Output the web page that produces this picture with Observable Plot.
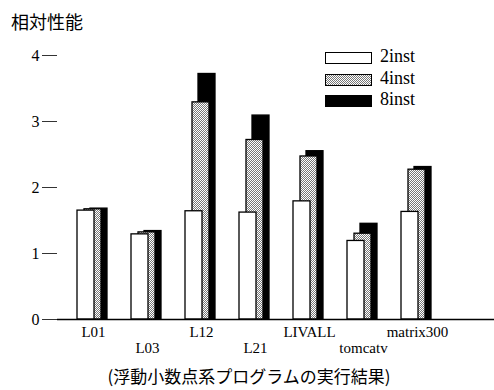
<!DOCTYPE html>
<html>
<head>
<meta charset="utf-8">
<script src="https://cdn.jsdelivr.net/npm/d3@7"></script>
<script src="https://cdn.jsdelivr.net/npm/@observablehq/plot@0.6"></script>
<style>
  body { margin: 0; background: #fff; width: 494px; height: 390px; position: relative; overflow: hidden; }
  #title { height: 40px; padding-left: 11px; font: 18px "Noto Sans CJK JP", sans-serif; box-sizing: border-box; padding-top: 3px; line-height: 36px; }
  #caption { position: absolute; left: 0; top: 362px; width: 494px; text-align: center; font: 17px "Noto Sans CJK JP", sans-serif; line-height: 28px; padding-left: 2px; }
  #legend { position: absolute; left: 325px; top: 51px; }
  .item { height: 21.7px; position: relative; }
  .sw { position: absolute; left: 0; top: 1px; width: 45px; height: 10px; border: 1.3px solid #000; }
  .lab { position: absolute; left: 55px; top: -5px; font: 18px "Liberation Serif", serif; line-height: 20px; }
  svg { display: block; }
</style>
</head>
<body>
<div id="title">相対性能</div>
<div id="chart"></div>
<div id="legend"></div>
<div id="caption">(浮動小数点系プログラムの実行結果)</div>
<script>
const categories = ["L01", "L03", "L12", "L21", "LIVALL", "tomcatv", "matrix300"];
const series = ["2inst", "4inst", "8inst"];
const v2inst = [1.65, 1.29, 1.64, 1.62, 1.79, 1.19, 1.63];
const v4inst = [1.67, 1.32, 3.29, 2.72, 2.47, 1.30, 2.27];
const v8inst = [1.68, 1.34, 3.72, 3.09, 2.55, 1.45, 2.31];
const yTicks = [0, 1, 2, 3, 4];

const fills = {"2inst": "#fff", "4inst": "url(#stip)", "8inst": "#000"};
const offsets = {"2inst": 0, "4inst": 7, "8inst": 13};
const values = {"2inst": v2inst, "4inst": v4inst, "8inst": v8inst};

const rows = s => categories.map((c, i) => ({cat: c, value: values[s][i]}));
const serif = "'Liberation Serif', 'Times New Roman', serif";

const barMarks = series.slice().reverse().map(s =>
  Plot.barY(rows(s), {
    x: "cat", y: "value", fill: fills[s], stroke: "#000", strokeWidth: 1.3, dx: offsets[s]
  })
);

const labelMark = (subset, dy) => Plot.text(subset, {
  x: d => d, y: 0, dx: 7.5, dy,
  text: d => d,
  fontFamily: serif, fontSize: 15, fill: "#000",
  textAnchor: "middle", lineAnchor: "middle"
});

const chart = Plot.plot({
  width: 494,
  height: 322,
  marginLeft: 57,
  marginRight: 0,
  marginTop: 15,
  marginBottom: 43,
  style: {background: "#fff", color: "#000"},
  x: {domain: categories, paddingInner: 0.688, paddingOuter: 0.853, align: 0.204, axis: null},
  y: {domain: [0, 4], axis: null, label: null},
  marks: [
    Plot.axisY({ticks: yTicks, label: null, tickSize: 15, tickPadding: 3, fontSize: 16, fontFamily: serif, stroke: "#333", strokeWidth: 1, tickFormat: d => String(d)}),
    ...barMarks,
    Plot.ruleY([0], {stroke: "#000", strokeWidth: 1.5}),
    labelMark(categories.filter((d, i) => i % 2 === 0), 13),
    labelMark(categories.filter((d, i) => i % 2 === 1), 29)
  ]
});

const defs = document.createElementNS("http://www.w3.org/2000/svg", "defs");
defs.innerHTML = '<pattern id="stip" width="2" height="2" patternUnits="userSpaceOnUse"><rect width="2" height="2" fill="#fff"/><rect width="1" height="1" fill="#777"/><rect x="1" y="1" width="1" height="1" fill="#777"/></pattern>';
chart.insertBefore(defs, chart.firstChild);
document.getElementById("chart").appendChild(chart);

const legend = document.getElementById("legend");
const swatchCss = {
  "2inst": "background:#fff",
  "4inst": "background-color:#fff;background-image:conic-gradient(#777 25%, #fff 0 50%, #777 0 75%, #fff 0);background-size:2px 2px",
  "8inst": "background:#000"
};
series.forEach(s => {
  const it = document.createElement("div");
  it.className = "item";
  it.innerHTML = `<div class="sw" style="${swatchCss[s]}"></div><div class="lab">${s}</div>`;
  legend.appendChild(it);
});
</script>
</body>
</html>
